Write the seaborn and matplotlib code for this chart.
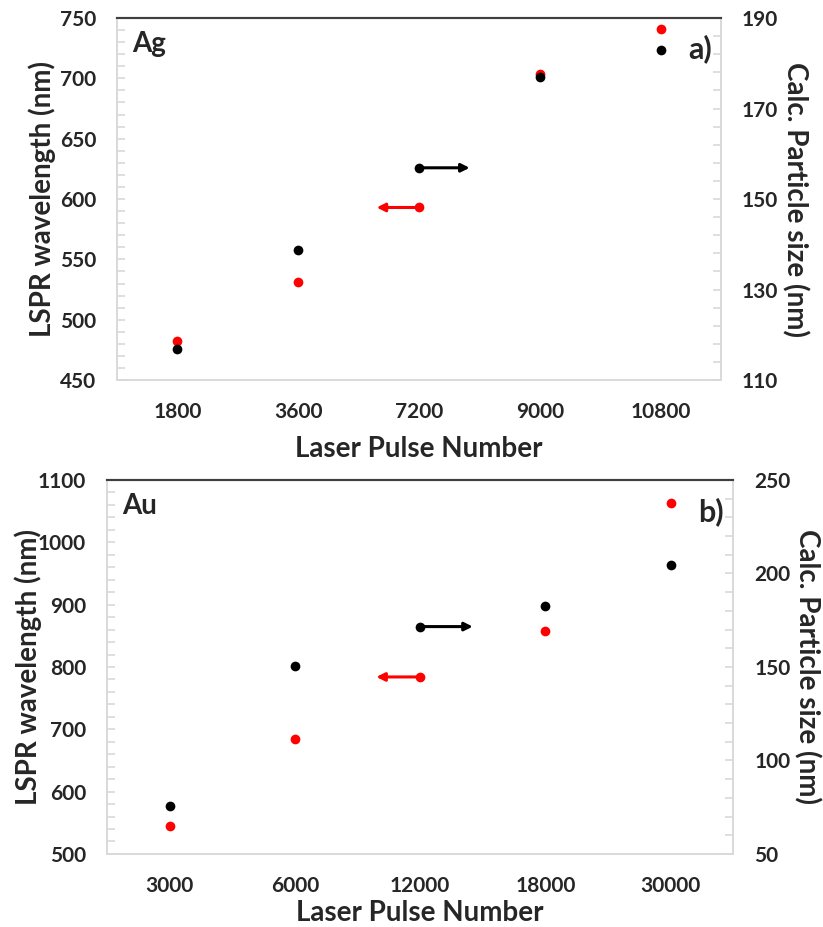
import matplotlib
matplotlib.use("Agg")
import matplotlib.pyplot as plt
import seaborn as sns
import numpy as np

# Panel a (Ag)
ag_pulses = ["1800", "3600", "7200", "9000", "10800"]
ag_lspr = [482, 531, 593, 704, 741]
ag_size = [116.9, 138.8, 156.9, 176.9, 182.9]

# Panel b (Au)
au_pulses = ["3000", "6000", "12000", "18000", "30000"]
au_lspr = [545, 684, 784, 858, 1063]
au_size = [75.7, 150.4, 171.6, 182.8, 204.7]

sns.set_theme(style="white")
plt.rcParams["font.family"] = ["Lato", "DejaVu Sans"]
plt.rcParams["font.weight"] = "bold"

fig = plt.figure(figsize=(8.23, 9.27), dpi=100)

light = "#d9d9d9"


def panel(rect, pulses, lspr, size, left_lim, left_major, left_minor,
          right_lim, right_major, right_minor, name, tag, arrow_idx,
          xlabelpad, left_lab_x, right_lab_x):
    ax = fig.add_axes(rect)
    ax2 = ax.twinx()
    sns.stripplot(x=pulses, y=lspr, ax=ax, jitter=False, color="red", size=7, zorder=3)
    sns.stripplot(x=pulses, y=size, ax=ax2, jitter=False, color="black", size=7, zorder=3)
    n = len(pulses)
    for a in (ax, ax2):
        a.set_xlim(-0.5, n - 0.5)
        for s in a.spines.values():
            s.set_color(light)
            s.set_linewidth(1.2)
        a.spines["top"].set_color("#3f3f3f")
        a.spines["top"].set_linewidth(1.5)
    ax.set_ylim(*left_lim)
    ax.set_yticks(np.arange(left_lim[0], left_lim[1] + 1, left_major))
    ax.set_yticks(np.arange(left_lim[0], left_lim[1] + 1, left_minor), minor=True)
    ax2.set_ylim(*right_lim)
    ax2.set_yticks(np.arange(right_lim[0], right_lim[1] + 1, right_major))
    ax2.set_yticks(np.arange(right_lim[0], right_lim[1] + 1, right_minor), minor=True)

    ax.set_xticks(range(n))
    ax.set_xticklabels(pulses, fontsize=15, fontweight="bold")
    ax.set_xticks(np.arange(0.5, n - 0.5, 1), minor=True)
    ax.tick_params(axis="x", which="major", length=0, pad=16)
    ax.tick_params(axis="x", which="minor", direction="in", length=6, color=light, width=1.2)
    for a in (ax, ax2):
        a.tick_params(axis="y", which="both", direction="in", color=light, width=1.2, labelsize=15)
        a.tick_params(axis="y", which="major", length=6, pad=15)
        a.tick_params(axis="y", which="minor", length=6)
        for lbl in a.get_yticklabels():
            lbl.set_fontweight("bold")

    ax.set_xlabel("Laser Pulse Number", fontsize=20, fontweight="bold", labelpad=xlabelpad)
    ax.set_ylabel("LSPR wavelength (nm)", fontsize=20, fontweight="bold")
    ax2.set_ylabel("Calc. Particle size (nm)", fontsize=20, fontweight="bold", rotation=-90)
    for a, xpos in ((ax, left_lab_x), (ax2, right_lab_x)):
        a.yaxis.label.set_va("center")
        a.yaxis.label.set_ha("center")
        a.yaxis.set_label_coords(xpos, 0.5)

    ax.text(0.025, 0.965, name, transform=ax.transAxes, fontsize=20,
            fontweight="bold", va="top", ha="left")
    ax.text(0.985, 0.955, tag, transform=ax.transAxes, fontsize=22,
            fontweight="bold", va="top", ha="right")

    # arrows pointing to the relevant axis
    ax.annotate("", xy=(arrow_idx - 0.35, lspr[arrow_idx]), xytext=(arrow_idx, lspr[arrow_idx]),
                arrowprops=dict(arrowstyle="-|>", color="red", lw=2.2, mutation_scale=12,
                                shrinkA=0, shrinkB=0), zorder=2)
    ax2.annotate("", xy=(arrow_idx + 0.42, size[arrow_idx]), xytext=(arrow_idx, size[arrow_idx]),
                 arrowprops=dict(arrowstyle="-|>", color="black", lw=2.2, mutation_scale=12,
                                 shrinkA=0, shrinkB=0), zorder=2)
    return ax, ax2


panel([0.142, 0.590, 0.734, 0.3906], ag_pulses, ag_lspr, ag_size,
      (450, 750), 50, 10, (110, 190), 20, 4, "Ag", "a)", 2,
      10, -0.124, 1.1225)
panel([0.130, 0.0788, 0.761, 0.4034], au_pulses, au_lspr, au_size,
      (500, 1100), 100, 20, (50, 250), 50, 10, "Au", "b)", 2,
      3, -0.126, 1.118)

fig.savefig("out.png", dpi=100)
